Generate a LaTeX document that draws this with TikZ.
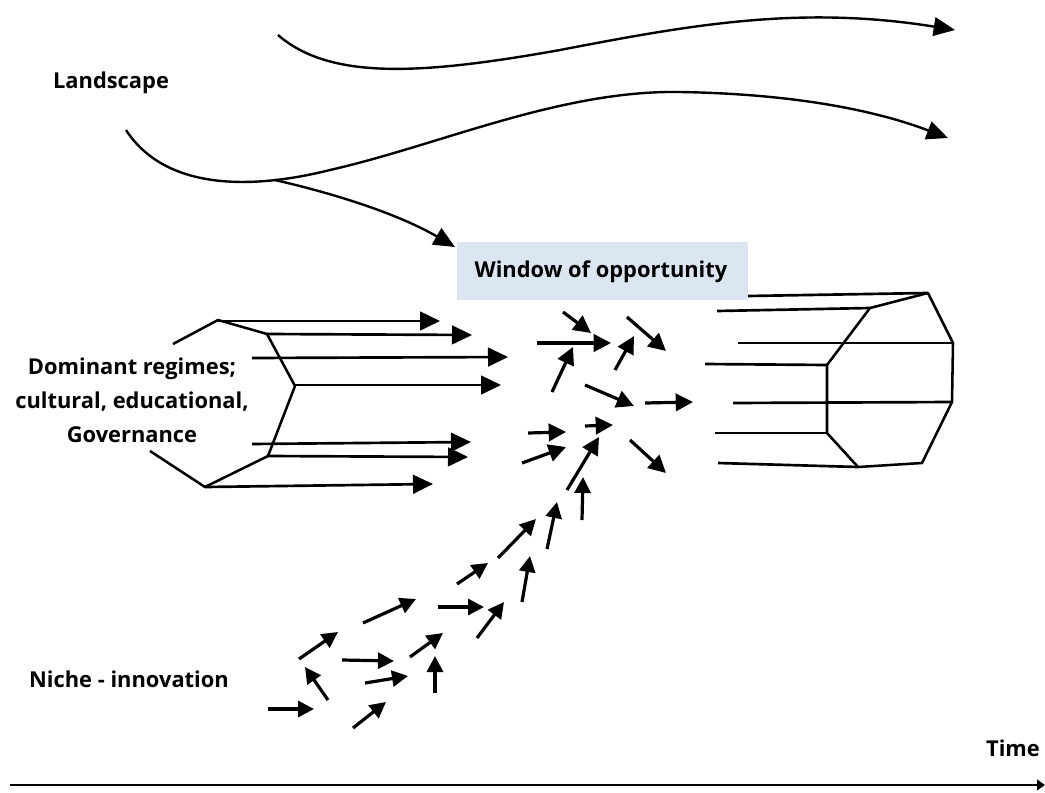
\documentclass[tikz,border=0pt]{standalone}
\usepackage{fontspec}
\setmainfont{Open Sans}
\usetikzlibrary{arrows.meta}
\begin{document}
\begin{tikzpicture}[x=0.75pt,y=-0.75pt,
  lbl/.style={font=\bfseries\fontsize{16.4}{25.5}\selectfont, inner sep=0pt, text=black},
  curvearrow/.style={line width=1.8pt,-{Triangle[length=16pt,width=14pt]}},
  regarrow/.style={line width=2pt,-{Triangle[length=15pt,width=14pt]}},
  midarrow/.style={line width=2.4pt,-{Triangle[length=13pt,width=13pt]}},
  nicharrow/.style={line width=2.4pt,-{Triangle[length=12pt,width=12pt]}},
  outline/.style={line width=1.9pt, line join=round},
  tube/.style={line width=2pt}]
\useasboundingbox (0,0) rectangle (1045,792);

% Landscape curves
\draw[curvearrow] (278,35) .. controls (330,80) and (420,75) .. (560,50)
   .. controls (690,25) and (800,5) .. (955,30);
\coordinate (fork) at (275,180);
\draw[curvearrow] (126,130) .. controls (165,190) and (250,190) .. (330,170)
   .. controls (440,145) and (560,90) .. (680,92)
   .. controls (800,94) and (880,112) .. (948,138);
\node[fill={rgb,255:red,220;green,230;blue,242}, minimum width=291*0.75pt, minimum height=58*0.75pt, inner sep=0pt] (window) at (602.5,271) {};
\draw[curvearrow] (fork) .. controls (340,195) and (400,215) .. (455,247);
\node[lbl] (wtext) at (601,272) {Window of opportunity};

\node[lbl] (landscape) at (111,83) {Landscape};
\node[lbl, align=center] (dominant) at (132,400) {Dominant regimes;\\cultural, educational,\\Governance};
\node[lbl] (niche) at (129,679) {Niche - innovation};
\node[lbl] (time) at (1013,748) {Time};

% Left regime outline
\draw[outline] (173,344) -- (218,320) -- (267,334) -- (295,386) -- (268,456) -- (205,487) -- (150,451);
% Regime arrows
\draw[regarrow] (218,321) -- (440,321);
\draw[regarrow] (267,334) -- (472,335);
\draw[regarrow] (252,358) -- (508,357);
\draw[regarrow] (295,385) -- (501,385);
\draw[regarrow] (252,444) -- (471,442);
\draw[regarrow] (268,456) -- (468,457);
\draw[regarrow] (205,487) -- (433,484);

% Middle arrows
\draw[midarrow] (563,312) -- (591,333);
\draw[midarrow] (537,343) -- (611,343);
\draw[midarrow] (615,370) -- (634,336);
\draw[midarrow] (627,317) -- (666,351);
\draw[midarrow] (552,392) -- (573,347);
\draw[midarrow] (585,385) -- (634,406);
\draw[midarrow] (645,403) -- (693,402);
\draw[midarrow] (528,433) -- (566,432);
\draw[midarrow] (585,426) -- (613,425);
\draw[midarrow] (522,463) -- (566,447);
\draw[midarrow] (567,490) -- (599,437);
\draw[midarrow] (630,440) -- (666,473);

% Niche arrows
\draw[nicharrow] (268,709) -- (314,709);
\draw[nicharrow] (328,700) -- (305,667);
\draw[nicharrow] (299,659) -- (338,632);
\draw[nicharrow] (342,660) -- (394,661);
\draw[nicharrow] (365,683) -- (408,676);
\draw[nicharrow] (353,728) -- (386,702);
\draw[nicharrow] (363,623) -- (416,599);
\draw[nicharrow] (410,657) -- (443,633);
\draw[nicharrow] (435,693) -- (435,656);
\draw[nicharrow] (438,607) -- (484,607);
\draw[nicharrow] (477,638) -- (504,602);
\draw[nicharrow] (457,584) -- (488,563);
\draw[nicharrow] (522,602) -- (530,556);
\draw[nicharrow] (498,558) -- (536,519);
\draw[nicharrow] (547,549) -- (557,502);
\draw[nicharrow] (582,520) -- (583,477);

% Right regime
\draw[tube] (748,296) -- (928,293);
\draw[tube] (717,311) -- (870,308);
\draw[tube] (738,343) -- (953,343);
\draw[tube] (705,364) -- (827,365);
\draw[tube] (733,403) -- (952,402);
\draw[tube] (715,433) -- (827,433);
\draw[tube] (718,463) -- (858,467);
\draw[outline] (870,308) -- (827,365) -- (827,433) -- (858,467) -- (922,463) -- (952,402) -- (953,343) -- (928,293) -- cycle;

% Time axis
\coordinate (t0) at (10,785);
\coordinate (t1) at (1045,785);
\draw[line width=2.2pt,-{Triangle[length=6pt,width=8pt]}] (t0) -- (t1);
\end{tikzpicture}
\end{document}
